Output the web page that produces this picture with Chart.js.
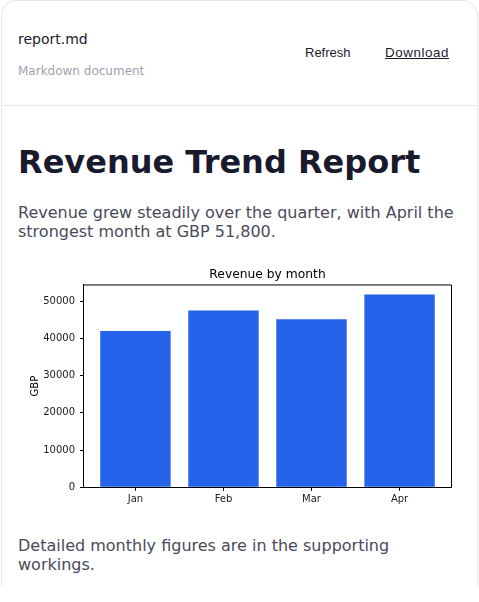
<!DOCTYPE html>
<html>
<head>
<meta charset="utf-8">
<title>report.md</title>
<script src="https://cdn.jsdelivr.net/npm/chart.js@4"></script>
<style>
  html, body { margin: 0; padding: 0; background: #fff; font-family: 'DejaVu Sans', sans-serif; }
  body { width: 479px; height: 602px; overflow: hidden; }
  .card { position: absolute; left: 1px; top: 0; width: 477px; height: 586px; box-sizing: border-box;
    border: 1px solid #e5e7eb; border-bottom: 0; border-radius: 16px 16px 0 0; }
  .head { position: absolute; left: 0; right: 0; top: 0; height: 104px; border-bottom: 1px solid #e5e7eb; }
  .abs { position: absolute; white-space: nowrap; }
  .name { left: 16px; top: 30px; font-size: 14px; color: #1a1a2e; }
  .sub { left: 16px; top: 63px; font-size: 12px; color: #9ca3af; }
  .btn { top: 44px; font-family: 'Liberation Sans', sans-serif; font-size: 13px; color: #1a1a2e; }
  .refresh { left: 303px; }
  .download { left: 383px; font-size: 13.33px; letter-spacing: 0.6px; text-decoration: underline; }
  h1 { left: 16px; top: 142px; margin: 0; font-size: 32px; line-height: 38px; font-weight: 700; color: #1a1a2e; }
  p { left: 16px; margin: 0; font-size: 16px; line-height: 19px; color: #4a4a5a; }
  .chart-wrap { position: absolute; left: 17px; top: 259px; width: 443px; height: 249px; }
</style>
</head>
<body>
<div class="card">
  <div class="head">
    <div class="abs name">report.md</div>
    <div class="abs sub">Markdown document</div>
    <div class="abs btn refresh">Refresh</div>
    <div class="abs btn download">Download</div>
  </div>
  <h1 class="abs">Revenue Trend Report</h1>
  <p class="abs" style="top:202px">Revenue grew steadily over the quarter, with April the<br>strongest month at GBP 51,800.</p>
  <div class="chart-wrap"><canvas id="revenueChart"></canvas></div>
  <p class="abs" style="top:535px">Detailed monthly figures are in the supporting<br>workings.</p>
</div>
<script>
const months = ['Jan', 'Feb', 'Mar', 'Apr'];
const revenue = [42000, 47500, 45200, 51800];
const yTicks = [0, 10000, 20000, 30000, 40000, 50000];

const fontFamily = "'DejaVu Sans', sans-serif";
const inkColor = '#1a1a1a';

// top and right edges of the plot box, the scales only draw left and bottom
const plotFrame = {
  id: 'plotFrame',
  afterDatasetsDraw(chart) {
    const { ctx, chartArea: a } = chart;
    ctx.save();
    ctx.strokeStyle = '#000';
    ctx.lineWidth = 1;
    ctx.beginPath();
    ctx.moveTo(a.left, a.top);
    ctx.lineTo(a.right, a.top);
    ctx.lineTo(a.right, a.bottom);
    ctx.stroke();
    ctx.restore();
  }
};

new Chart(document.getElementById('revenueChart'), {
  type: 'bar',
  data: {
    datasets: [{
      data: months.map((m, i) => ({ x: i, y: revenue[i] })),
      backgroundColor: '#2563eb',
      borderWidth: 0,
      barPercentage: 0.8,
      categoryPercentage: 1
    }]
  },
  options: {
    responsive: true,
    maintainAspectRatio: false,
    animation: false,
    devicePixelRatio: 1,
    layout: { padding: { left: 10, right: 10.5, top: 7, bottom: 0 } },
    plugins: {
      legend: { display: false },
      tooltip: { enabled: false },
      title: {
        display: true,
        fullSize: false,
        text: 'Revenue by month',
        color: '#000',
        font: { family: fontFamily, size: 12.3, weight: 'normal' },
        padding: { top: 0, bottom: 3.2 }
      }
    },
    scales: {
      x: {
        type: 'linear',
        offset: false,
        min: -0.59,
        max: 3.59,
        afterBuildTicks: scale => { scale.ticks = months.map((m, i) => ({ value: i })); },
        afterFit: scale => { scale.height = 21.7; },
        border: { display: true, color: '#000', width: 1 },
        grid: { display: true, offset: false, drawOnChartArea: false, tickLength: 3.5, tickColor: '#000' },
        ticks: {
          autoSkip: false,
          maxRotation: 0,
          color: inkColor,
          font: { family: fontFamily, size: 10 },
          padding: 3,
          callback: value => months[value]
        }
      },
      y: {
        min: 0,
        max: 54390,
        afterBuildTicks: scale => { scale.ticks = yTicks.map(v => ({ value: v })); },
        afterFit: scale => { scale.width = 54.5; },
        border: { display: true, color: '#000', width: 1 },
        grid: { display: true, drawOnChartArea: false, tickLength: 3.5, tickColor: '#000' },
        title: {
          display: true,
          text: 'GBP',
          color: '#000',
          font: { family: fontFamily, size: 10 },
          padding: { top: 0, bottom: 3 }
        },
        ticks: {
          color: inkColor,
          font: { family: fontFamily, size: 10 },
          padding: 5,
          callback: value => String(value)
        }
      }
    }
  },
  plugins: [plotFrame]
});
</script>
</body>
</html>
